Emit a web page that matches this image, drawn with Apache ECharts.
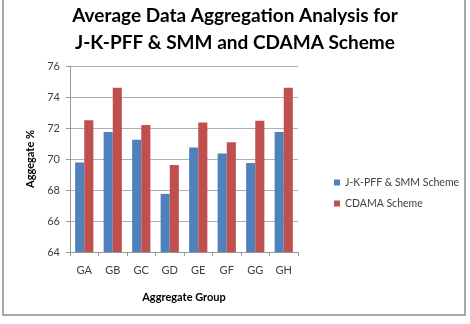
<!DOCTYPE html>
<html>
  <head>
    <meta charset="utf-8" />
    <script src="https://cdn.jsdelivr.net/npm/echarts@6.0.0/dist/echarts.min.js"></script>
    <style>
      body { margin: 0; background: #fff; }
    </style>
  </head>
  <body>
    <div id="main" style="width: 470px;height:324px;"></div>
    <script type="text/javascript">
      // data
      var groups = ['GA', 'GB', 'GC', 'GD', 'GE', 'GF', 'GG', 'GH'];
      var jkpffSmm = [69.78, 71.75, 71.25, 67.75, 70.75, 70.35, 69.75, 71.75];
      var cdama = [72.5, 74.6, 72.2, 69.62, 72.36, 71.08, 72.47, 74.6];

      var myChart = echarts.init(document.getElementById('main'));
      var option = {
        backgroundColor: '#fff',
        textStyle: { fontFamily: 'Lato' },
        title: {
          text: 'Average Data Aggregation Analysis for\nJ-K-PFF & SMM and CDAMA Scheme',
          left: 'center',
          top: -3,
          textStyle: {
            fontFamily: 'Lato',
            fontSize: 19,
            fontWeight: 'bold',
            color: '#000',
            lineHeight: 27
          }
        },
        graphic: [{
          type: 'rect',
          shape: { x: 3, y: -2, width: 462, height: 317 },
          style: { fill: 'none', stroke: '#8c8c8c', lineWidth: 1.5 }
        }],
        legend: {
          orient: 'vertical',
          left: 329,
          top: 172,
          itemWidth: 6,
          itemHeight: 6,
          itemGap: 10,
          icon: 'rect',
          textStyle: { fontFamily: 'Lato', fontSize: 10.5, color: '#404040' },
          data: ['J-K-PFF & SMM Scheme', 'CDAMA Scheme']
        },
        grid: {
          left: 70,
          right: 172,
          top: 66,
          bottom: 72
        },
        xAxis: {
          type: 'category',
          data: groups,
          name: 'Aggregate Group',
          nameLocation: 'middle',
          nameGap: 40,
          nameTextStyle: { fontFamily: 'Lato', fontSize: 11, fontWeight: 'bold', color: '#000' },
          axisLine: { lineStyle: { color: '#999' } },
          axisTick: { show: true, length: 4, inside: false, lineStyle: { color: '#999' } },
          axisLabel: { fontFamily: 'Lato', fontSize: 11, color: '#404040', margin: 13 }
        },
        yAxis: {
          type: 'value',
          min: 64,
          max: 76,
          interval: 2,
          name: 'Aggegate %',
          nameLocation: 'middle',
          nameGap: 34,
          nameTextStyle: { fontFamily: 'Lato', fontSize: 11, fontWeight: 'bold', color: '#000' },
          axisLine: { show: true, lineStyle: { color: '#999' } },
          axisTick: { show: true, length: 4, lineStyle: { color: '#999' } },
          axisLabel: { fontFamily: 'Lato', fontSize: 11, color: '#404040', margin: 10 },
          splitLine: { lineStyle: { color: '#b0b0b0' } }
        },
        series: [
          {
            name: 'J-K-PFF & SMM Scheme',
            type: 'bar',
            data: jkpffSmm,
            barGap: '0%',
            barCategoryGap: '36%',
            itemStyle: { color: '#4F81BD' }
          },
          {
            name: 'CDAMA Scheme',
            type: 'bar',
            data: cdama,
            itemStyle: { color: '#C0504D' }
          }
        ]
      };
      myChart.setOption(option);
    </script>
  </body>
</html>
